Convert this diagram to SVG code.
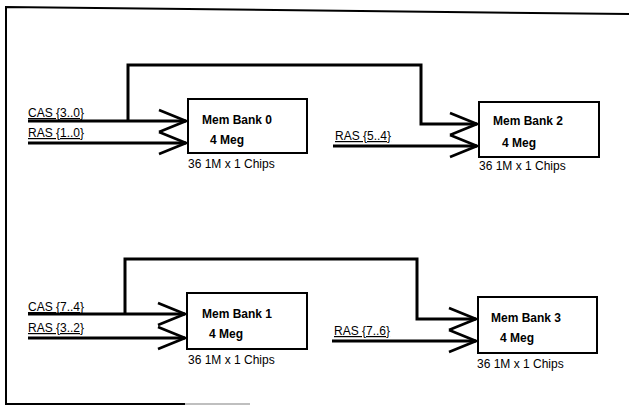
<svg xmlns="http://www.w3.org/2000/svg" width="629" height="407" viewBox="0 0 629 407">
<style>
  .box{fill:#fff;stroke:#000;stroke-width:2}
  .t{font-family:"Liberation Sans",Arial,sans-serif;font-size:12px;fill:#000}
  .b{font-weight:bold}
  .u{text-decoration:underline}
  .w{fill:none;stroke:#000;stroke-width:3}
  .frame{fill:none;stroke:#000;stroke-width:2}
</style>
<defs>
  <marker id="chev" markerUnits="userSpaceOnUse" viewBox="-30 -14 33 28" refX="0" refY="0" markerWidth="33" markerHeight="28" orient="auto">
    <path d="M-27,-11 L0,0 L-27,11" fill="none" stroke="#000" stroke-width="2.6" stroke-linejoin="miter"/>
  </marker>
</defs>
<rect width="629" height="407" fill="#fff"/>
<g id="frame">
  <path class="frame" d="M629,14 L6,7 L6,404 L185,404"/>
  <path d="M185,404 L250,404" stroke="#aaa" stroke-width="1.5"/>
</g>
<g id="connectors">
  <path class="w" d="M28,121 H186" marker-end="url(#chev)"/>
  <path class="w" d="M128,121 V65 H421 V124 H477" marker-end="url(#chev)"/>
  <path class="w" d="M28,143 H186" marker-end="url(#chev)"/>
  <path class="w" d="M333,146 H477" marker-end="url(#chev)"/>
  <path class="w" d="M28,314 H185" marker-end="url(#chev)"/>
  <path class="w" d="M125,314 V259 H417 V319 H476" marker-end="url(#chev)"/>
  <path class="w" d="M28,338 H185" marker-end="url(#chev)"/>
  <path class="w" d="M332,341 H476" marker-end="url(#chev)"/>
</g>
<g id="labels">
  <text class="t u" x="28" y="117">CAS {3..0}</text>
  <text class="t u" x="28" y="137">RAS {1..0}</text>
  <text class="t u" x="335" y="140">RAS {5..4}</text>
  <text class="t u" x="28" y="311">CAS {7..4}</text>
  <text class="t u" x="28" y="332">RAS {3..2}</text>
  <text class="t u" x="334" y="335">RAS {7..6}</text>
</g>
<g id="bank0">
  <rect class="box" x="188" y="99" width="119" height="54"/>
  <text class="t b" x="202" y="124">Mem Bank 0</text>
  <text class="t b" x="210" y="144">4 Meg</text>
  <text class="t" x="188" y="168">36 1M x 1 Chips</text>
</g>
<g id="bank2">
  <rect class="box" x="479" y="102" width="120" height="55"/>
  <text class="t b" x="493" y="125">Mem Bank 2</text>
  <text class="t b" x="502" y="147">4 Meg</text>
  <text class="t" x="479" y="170">36 1M x 1 Chips</text>
</g>
<g id="bank1">
  <rect class="box" x="187" y="293" width="120" height="56"/>
  <text class="t b" x="202" y="318">Mem Bank 1</text>
  <text class="t b" x="209" y="338">4 Meg</text>
  <text class="t" x="188" y="364">36 1M x 1 Chips</text>
</g>
<g id="bank3">
  <rect class="box" x="478" y="297" width="119" height="56"/>
  <text class="t b" x="491" y="322">Mem Bank 3</text>
  <text class="t b" x="500" y="342">4 Meg</text>
  <text class="t" x="477" y="368">36 1M x 1 Chips</text>
</g>
</svg>
